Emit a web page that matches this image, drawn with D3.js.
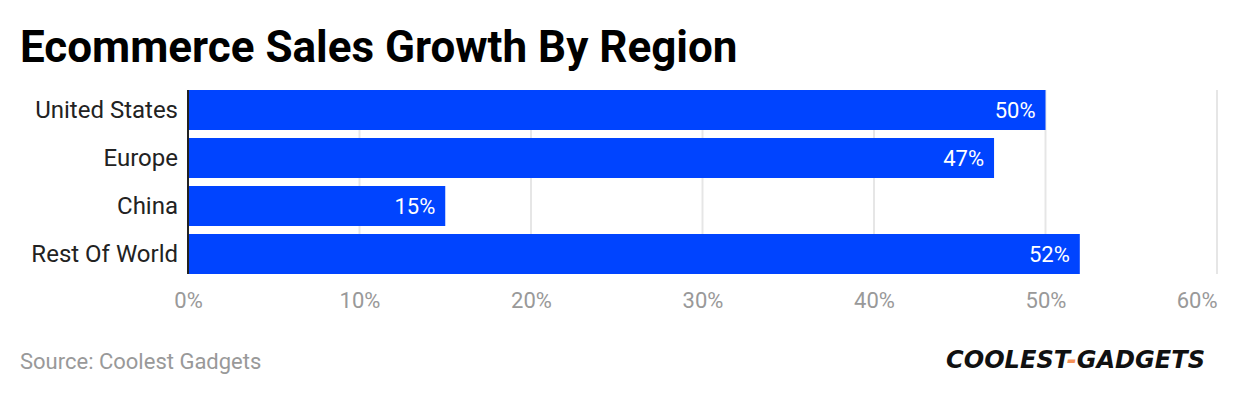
<!DOCTYPE html>
<html>
<head>
<meta charset="utf-8">
<script src="https://cdn.jsdelivr.net/npm/d3@7"></script>
<style>
  body { margin: 0; background: #fff; }
  svg text { font-family: Roboto, "Noto Sans", sans-serif; }
</style>
</head>
<body>
<div id="chart"></div>
<script>
// Chart data
const regions = ["United States", "Europe", "China", "Rest Of World"];
const growth = [50, 47, 15, 52];
const xTicks = [0, 10, 20, 30, 40, 50, 60];

const W = 1240, H = 396;
const margin = { top: 90, right: 23, bottom: 122, left: 188 };
const width = W - margin.left - margin.right;
const plotH = 184;

const svg = d3.select("#chart")
    .append("svg")
    .attr("width", W)
    .attr("height", H);

// Title
svg.append("text")
    .attr("x", 20)
    .attr("y", 62)
    .style("font-size", "44px")
    .style("font-weight", "bold")
    .style("fill", "#000")
    .text("Ecommerce Sales Growth By Region");

const g = svg.append("g")
    .attr("transform", `translate(${margin.left},${margin.top})`);

// Scales
const x = d3.scaleLinear().domain([0, 60]).range([0, width]);
const y = d3.scaleBand()
    .domain(regions)
    .range([0, plotH])
    .paddingInner(8 / 48)
    .paddingOuter(0);

const data = regions.map((r, i) => ({ region: r, value: growth[i] }));

// Grid lines
g.append("g")
    .selectAll("line")
    .data(xTicks.slice(1))
    .enter().append("line")
    .attr("x1", d => x(d))
    .attr("x2", d => x(d))
    .attr("y1", 0)
    .attr("y2", plotH)
    .style("stroke", "#e6e6e6")
    .style("stroke-width", 2);

// Bars
g.selectAll(".bar")
    .data(data)
    .enter().append("rect")
    .attr("class", "bar")
    .attr("x", 0)
    .attr("y", d => y(d.region))
    .attr("width", d => x(d.value))
    .attr("height", y.bandwidth())
    .style("fill", "#0044ff");

// Value labels
g.selectAll(".val")
    .data(data)
    .enter().append("text")
    .attr("class", "val")
    .attr("x", d => x(d.value) - 10)
    .attr("y", d => y(d.region) + y.bandwidth() / 2)
    .attr("dy", "0.35em")
    .attr("text-anchor", "end")
    .style("font-size", "22px")
    .style("fill", "#fff")
    .text(d => d.value + "%");

// Y axis labels
g.selectAll(".ylab")
    .data(regions)
    .enter().append("text")
    .attr("class", "ylab")
    .attr("x", -10)
    .attr("y", d => y(d) + y.bandwidth() / 2)
    .attr("dy", "0.35em")
    .attr("text-anchor", "end")
    .style("font-size", "24px")
    .style("fill", "#222")
    .text(d => d);

// Axis line
g.append("line")
    .attr("x1", 0).attr("x2", 0)
    .attr("y1", 0).attr("y2", plotH)
    .style("stroke", "#222")
    .style("stroke-width", 2);

// X axis tick labels
const xAxis = g.append("g")
    .attr("transform", `translate(0,${plotH})`)
    .call(d3.axisBottom(x).tickValues(xTicks).tickSize(0).tickPadding(18).tickFormat(d => d + "%"));
xAxis.select(".domain").remove();
xAxis.selectAll("text")
    .style("font-family", "Roboto, sans-serif")
    .style("font-size", "22px")
    .style("fill", "#999")
    .attr("text-anchor", (d, i) => i === xTicks.length - 1 ? "end" : "middle");

// Source
svg.append("text")
    .attr("x", 20)
    .attr("y", 369)
    .style("font-size", "22px")
    .style("fill", "#999")
    .text("Source: Coolest Gadgets");

// Logo
const logo = svg.append("text")
    .attr("x", 946)
    .attr("y", 368)
    .attr("textLength", 259)
    .attr("lengthAdjust", "spacingAndGlyphs")
    .style("font-family", "'DejaVu Sans', sans-serif")
    .style("font-size", "24px")
    .style("font-weight", "bold")
    .style("font-style", "italic")
    .style("fill", "#111");
logo.append("tspan").text("COOLEST");
logo.append("tspan").style("fill", "#f4925a").text("-");
logo.append("tspan").text("GADGETS");
</script>
</body>
</html>
